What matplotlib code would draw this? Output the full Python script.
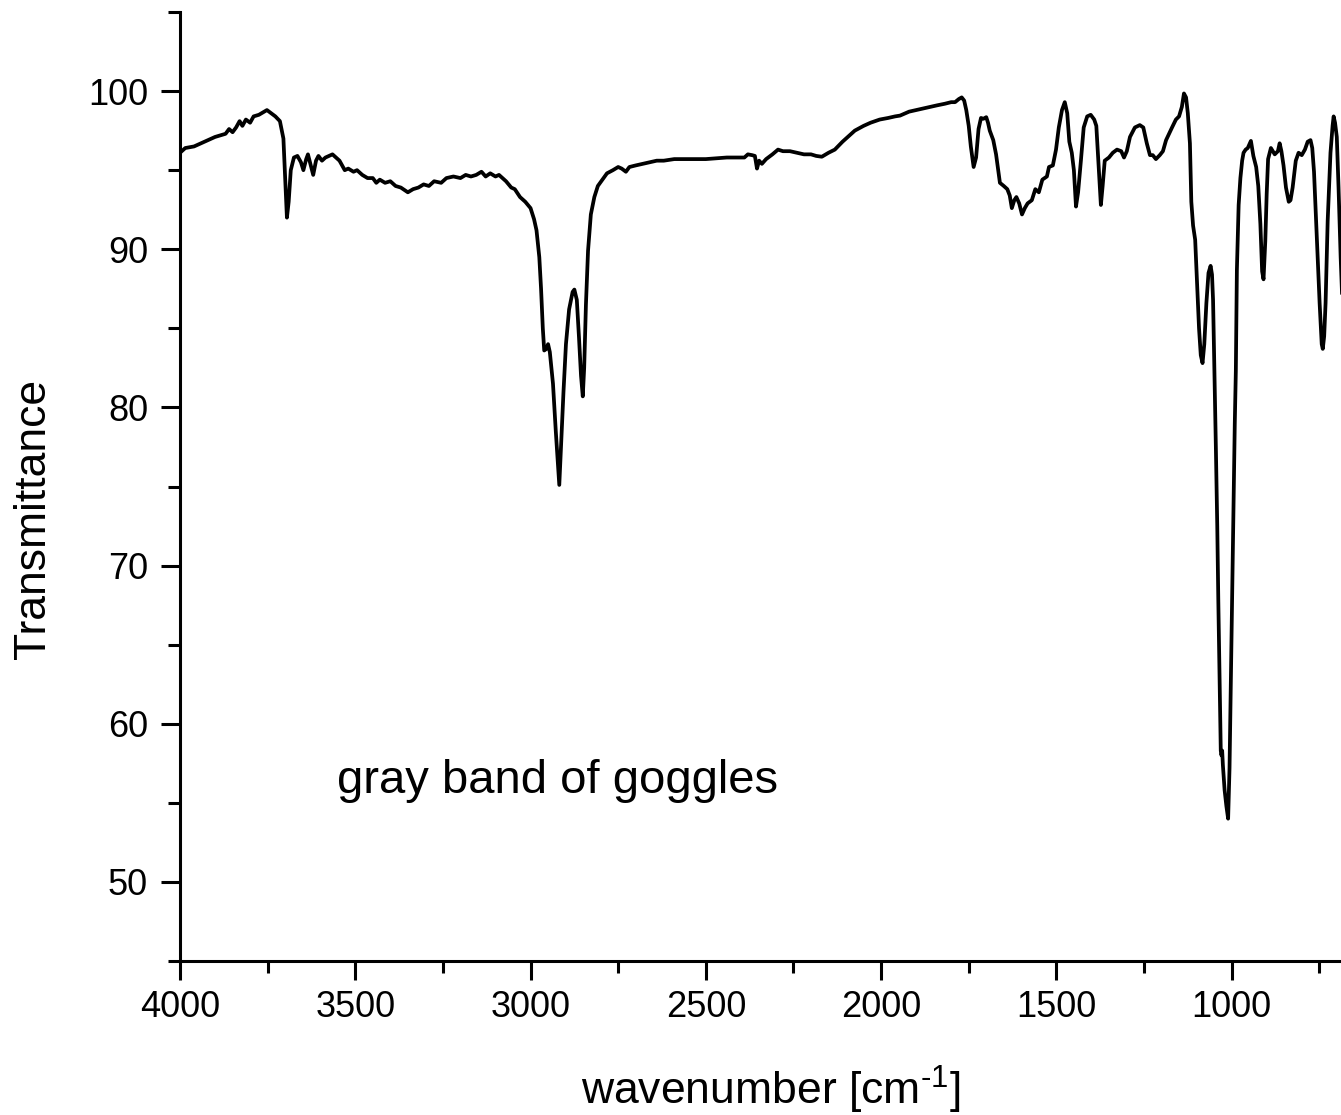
import numpy as np
import matplotlib
matplotlib.use('Agg')
import matplotlib.pyplot as plt
from matplotlib.ticker import MultipleLocator

plt.rcParams['font.family'] = ['Liberation Sans', 'DejaVu Sans']
plt.rcParams['mathtext.fontset'] = 'custom'
plt.rcParams['mathtext.rm'] = 'Liberation Sans'
plt.rcParams['mathtext.it'] = 'Liberation Sans'

# spectrum (wavenumber [cm-1], transmittance)
wavenumber = [4000, 3985, 3960, 3940, 3920, 3900, 3885, 3870, 3860, 3850, 3840, 3830, 3822, 3812, 3800,
              3790, 3775, 3760, 3752, 3740, 3728, 3715, 3705, 3700, 3695, 3690, 3684, 3675, 3665, 3655,
              3648, 3640, 3635, 3628, 3620, 3612, 3605, 3595, 3585, 3575, 3565, 3555, 3545, 3530, 3520,
              3505, 3495, 3480, 3465, 3450, 3440, 3430, 3415, 3400, 3385, 3370, 3350, 3335, 3320, 3305,
              3290, 3275, 3255, 3240, 3220, 3200, 3185, 3170, 3155, 3140, 3128, 3115, 3100, 3090, 3080,
              3070, 3055, 3045, 3030, 3015, 3000, 2990, 2983, 2975, 2970, 2965, 2961, 2955, 2950, 2945,
              2936, 2928, 2922, 2918, 2913, 2906, 2899, 2890, 2880, 2875, 2868, 2862, 2856, 2851, 2847,
              2842, 2836, 2828, 2818, 2808, 2795, 2782, 2765, 2750, 2740, 2728, 2718, 2700, 2680, 2660,
              2640, 2620, 2590, 2560, 2530, 2500, 2470, 2440, 2410, 2390, 2380, 2368, 2360, 2354, 2348,
              2340, 2328, 2310, 2294, 2280, 2260, 2240, 2220, 2200, 2185, 2169, 2150, 2132, 2110, 2090,
              2075, 2050, 2030, 2004, 1980, 1960, 1946, 1920, 1900, 1889, 1860, 1840, 1818, 1800, 1789,
              1778, 1770, 1763, 1757, 1750, 1744, 1736, 1729, 1722, 1715, 1708, 1700, 1695, 1690, 1680,
              1672, 1661, 1650, 1640, 1633, 1627, 1620, 1614, 1606, 1598, 1590, 1582, 1570, 1560, 1550,
              1540, 1527, 1521, 1510, 1501, 1493, 1484, 1476, 1469, 1463, 1456, 1450, 1444, 1438, 1430,
              1422, 1412, 1402, 1392, 1386, 1380, 1373, 1368, 1362, 1350, 1339, 1327, 1315, 1307, 1299,
              1290, 1276, 1262, 1252, 1242, 1233, 1225, 1216, 1205, 1196, 1187, 1170, 1159, 1150, 1142,
              1136, 1130, 1125, 1119, 1115, 1110, 1104, 1099, 1093, 1088, 1083, 1078, 1072, 1066, 1060,
              1056, 1053, 1049, 1045, 1041, 1038, 1034, 1031, 1029, 1027, 1025, 1020, 1015, 1010, 1006,
              1002, 999, 995, 991, 988, 985, 980, 975, 970, 966, 960, 954, 945, 938, 930,
              924, 918, 913, 909, 904, 900, 896, 888, 877, 868, 863, 858, 852, 845, 837,
              832, 826, 817, 809, 800, 791, 783, 775, 770, 765, 757, 749, 743, 740, 736,
              732, 726, 718, 712, 709, 705, 700, 695, 689, 683]
transmittance = [96.1, 96.4, 96.5, 96.7, 96.9, 97.1, 97.2, 97.3, 97.6, 97.4, 97.7, 98.1, 97.8, 98.2, 98.0,
                 98.4, 98.5, 98.7, 98.8, 98.6, 98.4, 98.1, 97.0, 94.5, 92.0, 93.0, 95.0, 95.8, 95.9, 95.5,
                 95.0, 95.7, 96.0, 95.4, 94.7, 95.6, 95.9, 95.6, 95.8, 95.9, 96.0, 95.8, 95.6, 95.0, 95.1,
                 94.9, 95.0, 94.7, 94.5, 94.5, 94.2, 94.4, 94.2, 94.3, 94.0, 93.9, 93.6, 93.8, 93.9, 94.1,
                 94.0, 94.3, 94.2, 94.5, 94.6, 94.5, 94.7, 94.6, 94.7, 94.9, 94.6, 94.8, 94.6, 94.7, 94.5,
                 94.3, 93.9, 93.8, 93.3, 93.0, 92.6, 91.9, 91.2, 89.5, 87.5, 85.0, 83.6, 83.7, 84.0, 83.5,
                 81.5, 78.5, 76.5, 75.1, 77.5, 81.0, 84.0, 86.2, 87.3, 87.45, 86.8, 84.5, 82.0, 80.7, 82.5,
                 86.5, 89.9, 92.2, 93.3, 94.0, 94.4, 94.8, 95.0, 95.2, 95.1, 94.9, 95.2, 95.3, 95.4, 95.5,
                 95.6, 95.6, 95.7, 95.7, 95.7, 95.7, 95.75, 95.8, 95.8, 95.8, 96.0, 95.95, 95.9, 95.1, 95.6,
                 95.4, 95.7, 96.0, 96.3, 96.2, 96.2, 96.1, 96.0, 96.0, 95.9, 95.85, 96.1, 96.3, 96.8, 97.2,
                 97.5, 97.8, 98.0, 98.2, 98.3, 98.4, 98.45, 98.7, 98.8, 98.85, 99.0, 99.1, 99.2, 99.3, 99.3,
                 99.5, 99.6, 99.4, 98.8, 97.8, 96.5, 95.2, 95.8, 97.6, 98.3, 98.25, 98.35, 98.0, 97.5, 96.9,
                 96.0, 94.2, 94.0, 93.8, 93.4, 92.6, 93.1, 93.3, 92.9, 92.2, 92.6, 92.9, 93.1, 93.8, 93.6,
                 94.4, 94.6, 95.2, 95.3, 96.3, 97.7, 98.8, 99.3, 98.6, 96.8, 96.1, 95.0, 92.7, 93.6, 95.6,
                 97.7, 98.4, 98.5, 98.2, 97.8, 95.5, 92.8, 94.0, 95.6, 95.8, 96.1, 96.3, 96.2, 95.8, 96.2,
                 97.1, 97.7, 97.85, 97.7, 96.7, 95.95, 95.95, 95.7, 95.95, 96.2, 96.9, 97.7, 98.2, 98.4, 99.0,
                 99.85, 99.6, 98.6, 96.7, 93.0, 91.5, 90.6, 88.0, 85.0, 83.3, 82.8, 84.0, 86.6, 88.5, 88.95,
                 88.4, 86.8, 82.3, 77.5, 72.5, 67.8, 62.5, 58.3, 58.0, 58.3, 57.4, 55.8, 54.8, 54.0, 57.2,
                 63.0, 67.8, 73.5, 79.0, 82.3, 88.7, 92.8, 94.5, 95.6, 96.1, 96.3, 96.4, 96.85, 95.9, 95.2,
                 94.0, 91.6, 88.6, 88.1, 90.5, 93.5, 95.7, 96.4, 96.0, 96.2, 96.7, 96.2, 95.3, 93.9, 93.0,
                 93.1, 93.9, 95.6, 96.1, 95.95, 96.3, 96.8, 96.9, 96.4, 94.9, 90.8, 86.6, 84.0, 83.7, 84.5,
                 86.6, 91.8, 96.1, 97.8, 98.4, 98.0, 97.1, 93.9, 89.5, 86.0]

W, H = 1341, 1115
fig = plt.figure(figsize=(W / 100, H / 100), dpi=100)
ax = fig.add_axes([180 / W, 154 / H, (W - 180) / W, (961 - 12) / H])

ax.plot(wavenumber, transmittance, color='black', lw=2.7, solid_joinstyle='round')

ax.set_xlim(4000, 688)
ax.set_ylim(45, 105)
ax.xaxis.set_major_locator(MultipleLocator(500))
ax.xaxis.set_minor_locator(MultipleLocator(250))
ax.yaxis.set_major_locator(MultipleLocator(10))
ax.yaxis.set_minor_locator(MultipleLocator(5))

ax.spines['top'].set_visible(False)
ax.spines['right'].set_visible(False)
for s in ['left', 'bottom']:
    ax.spines[s].set_linewidth(2.2)
ax.tick_params(which='major', direction='out', length=14, width=2.2, labelsize=26, pad=7)
ax.tick_params(which='minor', direction='out', length=8.5, width=2.2)
ax.tick_params(axis='y', which='major', pad=9)

ax.text(3552, 55.6, 'gray band of goggles', fontsize=34, ha='left', va='baseline')

fig.text(34 / W, 1 - 519 / H, 'Transmittance', fontsize=32, rotation=90, ha='center', va='center')
fig.text(771 / W, 1 - 1105 / H, r'wavenumber [cm$^{\text{-1}}$]', fontsize=32, ha='center', va='baseline')

plt.savefig('out.png', dpi=100)
